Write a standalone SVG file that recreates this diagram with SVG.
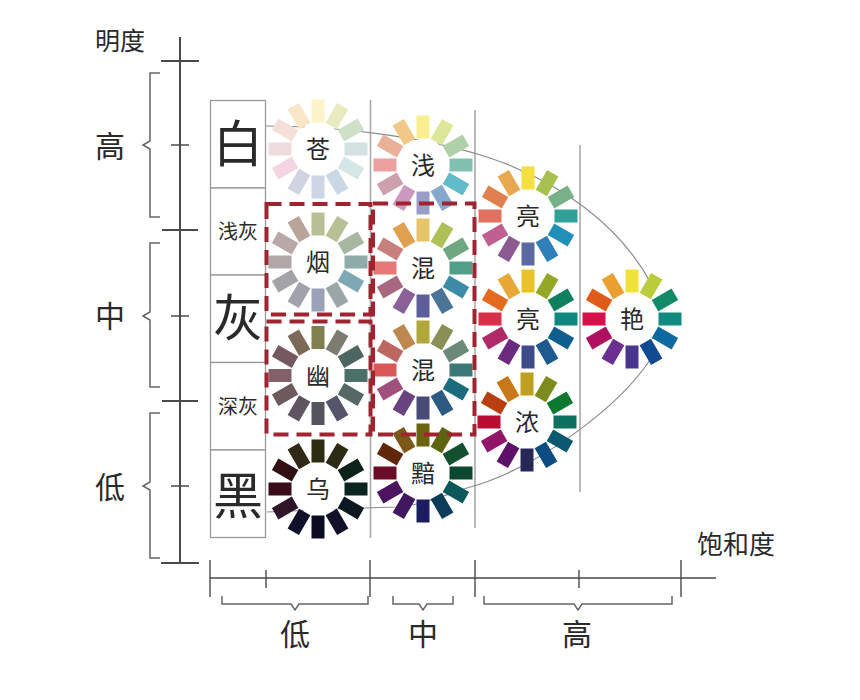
<svg xmlns="http://www.w3.org/2000/svg" width="860" height="700" viewBox="0 0 860 700">
<style>
text{font-family:"Noto Sans CJK SC","Noto Sans",sans-serif;text-anchor:middle;fill:#2a2a2a}
.ax{fill:none;stroke:#4a4a4a;stroke-width:2}
.ax1{fill:none;stroke:#4a4a4a;stroke-width:1.4}
.br{fill:none;stroke:#666;stroke-width:1.5}
.cv{fill:none;stroke:#8c8c8c;stroke-width:1.2}
.gr{fill:none;stroke:#aaa;stroke-width:1.6}
.cell{fill:#fff;stroke:#999;stroke-width:1.3}
.hub{fill:#fff}
.dash{fill:none;stroke:#a02430;stroke-width:4;stroke-dasharray:15 8}
.wl{font-size:24px}
.t30{font-size:30px}
.t24{font-size:25px}
.t26{font-size:26px}
.big{font-size:50px}
.sm{font-size:20px}
</style>
<defs><rect id="s" x="-6.500" y="-49.500" width="13" height="23"/></defs>
<rect width="860" height="700" fill="#fff"/>
<g id="connectors">
<path class="gr" d="M370.500 100V538M475 110V528M580 145V492"/>
<path class="cv" d="M266 126C330 126 420 135 490 158C560 182 620 225 652 285"/>
<path class="cv" d="M650 360C620 405 540 468 467 488C440 497 420 505 397 507L363 508L267 512"/>
<path class="ax" d="M180 37V563M161 61H199M162 230H198M162 401H198M161 563H199"/>
<path class="ax1" d="M171 145H189M171 316H189M171 486H189"/>
<path class="br" d="M160 73H150V141L143 145L150 149V217H160M160 243H150V312L143 316L150 320V387H160M160 413H150V482L143 486L150 490V558H160"/>
<path class="ax1" d="M210 578H716M210 560V597M370 560V597M475 560V597M681 560V597M266 570V588M579 570V588"/>
<path class="br" d="M222 596V604H291L295 610L299 604H368V596M393 596V604H419L423 610L427 604H453V596M484 596V604H574L578 610L582 604H672V596"/>
</g>
<g id="scale-cells">
<g id="cell-white"><rect class="cell" x="210.500" y="100.500" width="55" height="87.500"/><text class="big" x="238" y="162">白</text></g>
<g id="cell-lightgray"><rect class="cell" x="210.500" y="188" width="55" height="87"/><text class="sm" x="238" y="239">浅灰</text></g>
<g id="cell-gray"><rect class="cell" x="210.500" y="275" width="55" height="87.500"/><text class="big" x="238" y="336">灰</text></g>
<g id="cell-darkgray"><rect class="cell" x="210.500" y="362.500" width="55" height="87.500"/><text class="sm" x="238" y="414">深灰</text></g>
<g id="cell-black"><rect class="cell" x="210.500" y="450" width="55" height="87.500"/><text class="big" x="238" y="514">黑</text></g>
</g>
<g id="wheel-cang" transform="translate(318 149)"><use href="#s" fill="#fbf4c8"/><use href="#s" transform="rotate(30)" fill="#e6ecc0"/><use href="#s" transform="rotate(60)" fill="#cfe0c8"/><use href="#s" transform="rotate(90)" fill="#d2e2e2"/><use href="#s" transform="rotate(120)" fill="#d4e6e6"/><use href="#s" transform="rotate(150)" fill="#cad8e6"/><use href="#s" transform="rotate(180)" fill="#ccd6e4"/><use href="#s" transform="rotate(210)" fill="#cfd3e2"/><use href="#s" transform="rotate(240)" fill="#f3d6e2"/><use href="#s" transform="rotate(270)" fill="#efdcdf"/><use href="#s" transform="rotate(300)" fill="#f5e0d8"/><use href="#s" transform="rotate(330)" fill="#f8e6c8"/><circle class="hub" r="26"/><text class="wl" y="9">苍</text></g>
<g id="wheel-qian" transform="translate(423 165)"><use href="#s" fill="#f9ef90"/><use href="#s" transform="rotate(30)" fill="#dde79a"/><use href="#s" transform="rotate(60)" fill="#b0d0a8"/><use href="#s" transform="rotate(90)" fill="#80c0b0"/><use href="#s" transform="rotate(120)" fill="#60bcc8"/><use href="#s" transform="rotate(150)" fill="#85a8cc"/><use href="#s" transform="rotate(180)" fill="#9a9cc8"/><use href="#s" transform="rotate(210)" fill="#cc98c0"/><use href="#s" transform="rotate(240)" fill="#cca0ac"/><use href="#s" transform="rotate(270)" fill="#eca0a0"/><use href="#s" transform="rotate(300)" fill="#eab098"/><use href="#s" transform="rotate(330)" fill="#f0c888"/><circle class="hub" r="26"/><text class="wl" y="9">浅</text></g>
<g id="wheel-liang1" transform="translate(528 216)"><use href="#s" fill="#f5e040"/><use href="#s" transform="rotate(30)" fill="#a8c050"/><use href="#s" transform="rotate(60)" fill="#78b088"/><use href="#s" transform="rotate(90)" fill="#30a098"/><use href="#s" transform="rotate(120)" fill="#2090b8"/><use href="#s" transform="rotate(150)" fill="#2f80b8"/><use href="#s" transform="rotate(180)" fill="#5a6aa0"/><use href="#s" transform="rotate(210)" fill="#8a5a90"/><use href="#s" transform="rotate(240)" fill="#c06090"/><use href="#s" transform="rotate(270)" fill="#e07060"/><use href="#s" transform="rotate(300)" fill="#e08050"/><use href="#s" transform="rotate(330)" fill="#e8a850"/><circle class="hub" r="26"/><text class="wl" y="9">亮</text></g>
<g id="wheel-yan" transform="translate(318 262)"><use href="#s" fill="#b8bf96"/><use href="#s" transform="rotate(30)" fill="#b8c096"/><use href="#s" transform="rotate(60)" fill="#a8b8a0"/><use href="#s" transform="rotate(90)" fill="#8eaca8"/><use href="#s" transform="rotate(120)" fill="#7ea8b4"/><use href="#s" transform="rotate(150)" fill="#9aa6a8"/><use href="#s" transform="rotate(180)" fill="#9aa2b8"/><use href="#s" transform="rotate(210)" fill="#a0a2ac"/><use href="#s" transform="rotate(240)" fill="#a4a4a8"/><use href="#s" transform="rotate(270)" fill="#b0a8a8"/><use href="#s" transform="rotate(300)" fill="#b8a8a8"/><use href="#s" transform="rotate(330)" fill="#b8a498"/><circle class="hub" r="26"/><text class="wl" y="9">烟</text></g>
<g id="wheel-hun1" transform="translate(423 268)"><use href="#s" fill="#e8c468"/><use href="#s" transform="rotate(30)" fill="#b0c058"/><use href="#s" transform="rotate(60)" fill="#6ea880"/><use href="#s" transform="rotate(90)" fill="#50a088"/><use href="#s" transform="rotate(120)" fill="#3c8ca8"/><use href="#s" transform="rotate(150)" fill="#4a7498"/><use href="#s" transform="rotate(180)" fill="#5e5e9c"/><use href="#s" transform="rotate(210)" fill="#8a6098"/><use href="#s" transform="rotate(240)" fill="#a86880"/><use href="#s" transform="rotate(270)" fill="#e67878"/><use href="#s" transform="rotate(300)" fill="#c8807c"/><use href="#s" transform="rotate(330)" fill="#e0a050"/><circle class="hub" r="26"/><text class="wl" y="9">混</text></g>
<g id="wheel-liang2" transform="translate(528 319)"><use href="#s" fill="#e8c428"/><use href="#s" transform="rotate(30)" fill="#94a828"/><use href="#s" transform="rotate(60)" fill="#0e8060"/><use href="#s" transform="rotate(90)" fill="#108880"/><use href="#s" transform="rotate(120)" fill="#0e5f8e"/><use href="#s" transform="rotate(150)" fill="#1e5a90"/><use href="#s" transform="rotate(180)" fill="#3e4c8c"/><use href="#s" transform="rotate(210)" fill="#6a2a80"/><use href="#s" transform="rotate(240)" fill="#b02a68"/><use href="#s" transform="rotate(270)" fill="#d83048"/><use href="#s" transform="rotate(300)" fill="#e46a20"/><use href="#s" transform="rotate(330)" fill="#e8a838"/><circle class="hub" r="26"/><text class="wl" y="9">亮</text></g>
<g id="wheel-yan2" transform="translate(632 319)"><use href="#s" fill="#f0e23c"/><use href="#s" transform="rotate(30)" fill="#b8cc3c"/><use href="#s" transform="rotate(60)" fill="#128a68"/><use href="#s" transform="rotate(90)" fill="#128a80"/><use href="#s" transform="rotate(120)" fill="#0d6aa0"/><use href="#s" transform="rotate(150)" fill="#104a90"/><use href="#s" transform="rotate(180)" fill="#4a3590"/><use href="#s" transform="rotate(210)" fill="#6a2f90"/><use href="#s" transform="rotate(240)" fill="#b01060"/><use href="#s" transform="rotate(270)" fill="#d8104a"/><use href="#s" transform="rotate(300)" fill="#e05a1a"/><use href="#s" transform="rotate(330)" fill="#eaa030"/><circle class="hub" r="26"/><text class="wl" y="9">艳</text></g>
<g id="wheel-you" transform="translate(318 375.500)"><use href="#s" fill="#7f7f50"/><use href="#s" transform="rotate(30)" fill="#7c7c70"/><use href="#s" transform="rotate(60)" fill="#4e6660"/><use href="#s" transform="rotate(90)" fill="#4a7068"/><use href="#s" transform="rotate(120)" fill="#556866"/><use href="#s" transform="rotate(150)" fill="#54546a"/><use href="#s" transform="rotate(180)" fill="#555560"/><use href="#s" transform="rotate(210)" fill="#5e5560"/><use href="#s" transform="rotate(240)" fill="#6e5a5e"/><use href="#s" transform="rotate(270)" fill="#84606a"/><use href="#s" transform="rotate(300)" fill="#755860"/><use href="#s" transform="rotate(330)" fill="#7c6a58"/><circle class="hub" r="26"/><text class="wl" y="9">幽</text></g>
<g id="wheel-hun2" transform="translate(423 370)"><use href="#s" fill="#b0a838"/><use href="#s" transform="rotate(30)" fill="#889058"/><use href="#s" transform="rotate(60)" fill="#6c8878"/><use href="#s" transform="rotate(90)" fill="#3c7878"/><use href="#s" transform="rotate(120)" fill="#1c6c80"/><use href="#s" transform="rotate(150)" fill="#2c5a80"/><use href="#s" transform="rotate(180)" fill="#4a4a78"/><use href="#s" transform="rotate(210)" fill="#6a4480"/><use href="#s" transform="rotate(240)" fill="#a0507c"/><use href="#s" transform="rotate(270)" fill="#d85858"/><use href="#s" transform="rotate(300)" fill="#bc6860"/><use href="#s" transform="rotate(330)" fill="#bc8850"/><circle class="hub" r="26"/><text class="wl" y="9">混</text></g>
<g id="wheel-nong" transform="translate(527 422)"><use href="#s" fill="#c0a020"/><use href="#s" transform="rotate(30)" fill="#7c8c1c"/><use href="#s" transform="rotate(60)" fill="#0c7830"/><use href="#s" transform="rotate(90)" fill="#0c7060"/><use href="#s" transform="rotate(120)" fill="#0c5870"/><use href="#s" transform="rotate(150)" fill="#0c4c80"/><use href="#s" transform="rotate(180)" fill="#282858"/><use href="#s" transform="rotate(210)" fill="#5c1068"/><use href="#s" transform="rotate(240)" fill="#901468"/><use href="#s" transform="rotate(270)" fill="#b80c30"/><use href="#s" transform="rotate(300)" fill="#b84010"/><use href="#s" transform="rotate(330)" fill="#c87818"/><circle class="hub" r="26"/><text class="wl" y="9">浓</text></g>
<g id="wheel-wu" transform="translate(318 489)"><use href="#s" fill="#2c2c10"/><use href="#s" transform="rotate(30)" fill="#2c2c14"/><use href="#s" transform="rotate(60)" fill="#0c2418"/><use href="#s" transform="rotate(90)" fill="#0c2420"/><use href="#s" transform="rotate(120)" fill="#0c1820"/><use href="#s" transform="rotate(150)" fill="#101028"/><use href="#s" transform="rotate(180)" fill="#0c0c20"/><use href="#s" transform="rotate(210)" fill="#101028"/><use href="#s" transform="rotate(240)" fill="#301428"/><use href="#s" transform="rotate(270)" fill="#380c18"/><use href="#s" transform="rotate(300)" fill="#301014"/><use href="#s" transform="rotate(330)" fill="#302818"/><circle class="hub" r="26"/><text class="wl" y="9">乌</text></g>
<g id="wheel-an" transform="translate(423 473)"><use href="#s" fill="#6c6410"/><use href="#s" transform="rotate(30)" fill="#5c6410"/><use href="#s" transform="rotate(60)" fill="#145030"/><use href="#s" transform="rotate(90)" fill="#0c4830"/><use href="#s" transform="rotate(120)" fill="#0c5858"/><use href="#s" transform="rotate(150)" fill="#0c3c58"/><use href="#s" transform="rotate(180)" fill="#1c1c60"/><use href="#s" transform="rotate(210)" fill="#401860"/><use href="#s" transform="rotate(240)" fill="#4c1460"/><use href="#s" transform="rotate(270)" fill="#6a0c28"/><use href="#s" transform="rotate(300)" fill="#602808"/><use href="#s" transform="rotate(330)" fill="#7c5818"/><circle class="hub" r="26"/><text class="wl" y="9">黯</text></g>
<g id="highlights">
<rect class="dash" x="266.500" y="204" width="104" height="110.500"/>
<rect class="dash" x="266.500" y="321.500" width="104" height="113"/>
<rect class="dash" x="373" y="203.500" width="101.500" height="231"/>
</g>
<g id="labels">
<text class="t24" x="120" y="50">明度</text>
<text class="t26" x="736" y="554">饱和度</text>
<text class="t30" x="110" y="157">高</text>
<text class="t30" x="110" y="327">中</text>
<text class="t30" x="110" y="498">低</text>
<text class="t30" x="295" y="645">低</text>
<text class="t30" x="423" y="645">中</text>
<text class="t30" x="577" y="645">高</text>
</g>
</svg>
